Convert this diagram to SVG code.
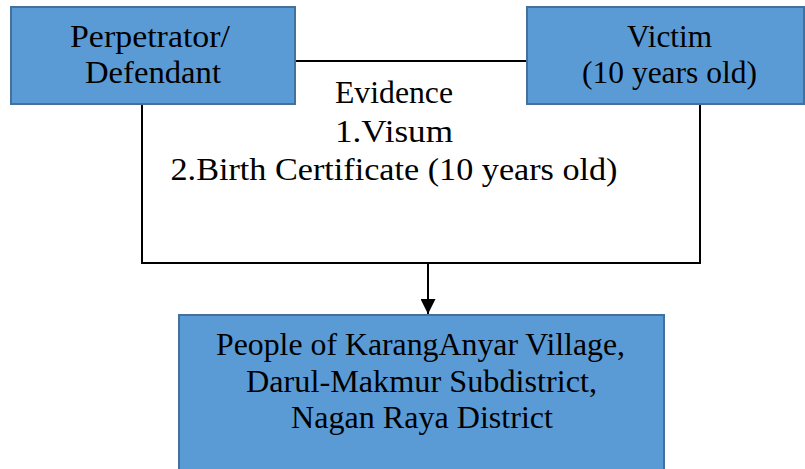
<svg xmlns="http://www.w3.org/2000/svg" width="805" height="469" viewBox="0 0 805 469">
<style>
.box{fill:#5b9bd5;stroke:#41719c;stroke-width:2}
.t{font-family:"Liberation Serif","Times New Roman",serif;font-size:31px;fill:#000;text-anchor:middle}
.c{fill:none;stroke:#000;stroke-width:2}
</style>
<defs>
<marker id="ah" markerWidth="16" markerHeight="15" refX="15" refY="7.5" orient="auto" markerUnits="userSpaceOnUse">
<path d="M0,0 L15,7.5 L0,15 Z" fill="#000"/>
</marker>
</defs>
<rect width="805" height="469" fill="#fff"/>
<g id="connectors">
<path class="c" d="M295,61 H527"/>
<path class="c" d="M142,104 V263 H700 V104"/>
<path class="c" d="M428,263 V314" marker-end="url(#ah)"/>
</g>
<g id="evidence">
<text class="t" x="394" y="103" textLength="118" lengthAdjust="spacingAndGlyphs">Evidence</text>
<text class="t" x="394" y="142" textLength="118" lengthAdjust="spacingAndGlyphs">1.Visum</text>
<text class="t" x="394" y="180" textLength="447" lengthAdjust="spacingAndGlyphs">2.Birth Certificate (10 years old)</text>
</g>
<g id="perpetrator">
<rect class="box" x="11" y="7" width="284" height="97"/>
<text class="t" x="150" y="47" textLength="160" lengthAdjust="spacingAndGlyphs">Perpetrator/</text>
<text class="t" x="153" y="83" textLength="136" lengthAdjust="spacingAndGlyphs">Defendant</text>
</g>
<g id="victim">
<rect class="box" x="527" y="7" width="277" height="97"/>
<text class="t" x="669.5" y="47" textLength="85" lengthAdjust="spacingAndGlyphs">Victim</text>
<text class="t" x="669.5" y="83" textLength="175" lengthAdjust="spacingAndGlyphs">(10 years old)</text>
</g>
<g id="people">
<rect class="box" x="179" y="315" width="485" height="160"/>
<text class="t" x="420.5" y="355" textLength="409" lengthAdjust="spacingAndGlyphs">People of KarangAnyar Village,</text>
<text class="t" x="421.5" y="392" textLength="351" lengthAdjust="spacingAndGlyphs">Darul-Makmur Subdistrict,</text>
<text class="t" x="422" y="428" textLength="262" lengthAdjust="spacingAndGlyphs">Nagan Raya District</text>
</g>
</svg>
